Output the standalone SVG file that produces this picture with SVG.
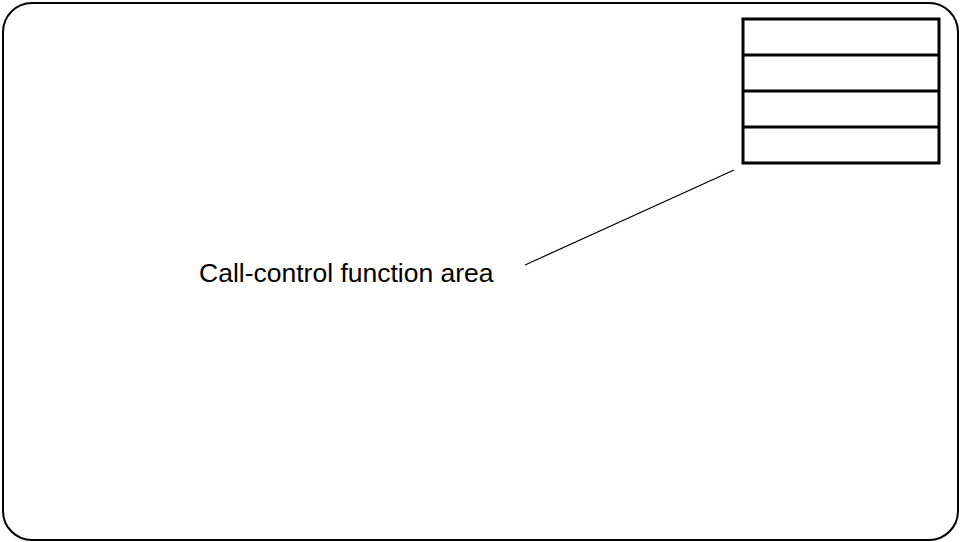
<svg xmlns="http://www.w3.org/2000/svg" width="960" height="542" viewBox="0 0 960 542">
  <style>
    .frame { fill: none; stroke: #000; stroke-width: 2; }
    .panel { fill: #fff; stroke: #000; stroke-width: 3; }
    .rule { stroke: #000; stroke-width: 3; }
    .leader { stroke: #000; stroke-width: 1.2; fill: none; }
    .label { font-family: "Liberation Sans", Arial, sans-serif; font-size: 26.5px; fill: #000; }
  </style>
  <rect width="960" height="542" fill="#fff"/>
  <g id="card">
    <rect class="frame" x="3" y="3" width="955" height="537" rx="29" ry="29"/>
  </g>
  <g id="call-control-area">
    <rect class="panel" x="743" y="19" width="196" height="144"/>
    <line class="rule" x1="743" y1="55" x2="939" y2="55"/>
    <line class="rule" x1="743" y1="91" x2="939" y2="91"/>
    <line class="rule" x1="743" y1="127" x2="939" y2="127"/>
  </g>
  <g id="connectors">
    <line class="leader" x1="525" y1="265" x2="734" y2="170"/>
  </g>
  <g id="label">
    <text class="label" x="199" y="282">Call-control function area</text>
  </g>
</svg>
